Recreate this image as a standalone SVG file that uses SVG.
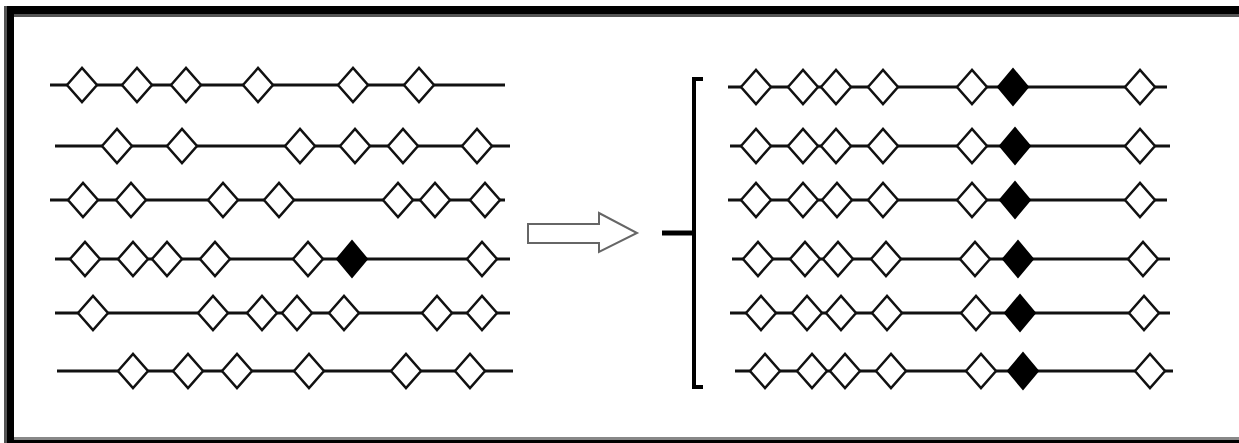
<svg xmlns="http://www.w3.org/2000/svg" xmlns:xlink="http://www.w3.org/1999/xlink" width="1239" height="443" viewBox="0 0 1239 443">
<style>
.ln{stroke:#111;stroke-width:3;fill:none}
.o{fill:#fff;stroke:#111;stroke-width:2.5}
.f{fill:#000;stroke:#000;stroke-width:2}
.frame{fill:#000}
</style>
<defs>
<path id="d" d="M-15,0 L0,-17 L15,0 L0,17 Z"/>
<path id="D" d="M-15,0 L0,-18 L15,0 L0,18 Z"/>
</defs>
<rect width="1239" height="443" fill="#fff"/>
<g id="frame">
<rect class="frame" x="4" y="6" width="1235" height="8"/>
<rect x="14" y="14" width="1225" height="3" fill="#555"/>
<rect x="4" y="6" width="3" height="437" fill="#555"/>
<rect class="frame" x="7" y="6" width="7" height="437"/>
<rect x="14" y="437" width="1225" height="3" fill="#888"/>
<rect class="frame" x="14" y="440" width="1225" height="3"/>
</g>
<g id="connectors">
<line class="ln" x1="50" y1="85" x2="505" y2="85"/>
<line class="ln" x1="55" y1="146" x2="510" y2="146" stroke="#333"/>
<line class="ln" x1="50" y1="200" x2="505" y2="200"/>
<line class="ln" x1="55" y1="259" x2="510" y2="259"/>
<line class="ln" x1="55" y1="313" x2="510" y2="313"/>
<line class="ln" x1="57" y1="371" x2="513" y2="371"/>
<line class="ln" x1="728" y1="87" x2="1167" y2="87"/>
<line class="ln" x1="730" y1="146" x2="1170" y2="146"/>
<line class="ln" x1="728" y1="200" x2="1167" y2="200"/>
<line class="ln" x1="732" y1="259" x2="1170" y2="259"/>
<line class="ln" x1="730" y1="313" x2="1170" y2="313"/>
<line class="ln" x1="735" y1="371" x2="1173" y2="371"/>
</g>
<g id="left-row1">
<use href="#d" class="o" x="82" y="85"/><use href="#d" class="o" x="137" y="85"/><use href="#d" class="o" x="186" y="85"/><use href="#d" class="o" x="258" y="85"/><use href="#d" class="o" x="353" y="85"/><use href="#d" class="o" x="419" y="85"/>
</g>
<g id="left-row2">
<use href="#d" class="o" x="117" y="146"/><use href="#d" class="o" x="182" y="146"/><use href="#d" class="o" x="300" y="146"/><use href="#d" class="o" x="355" y="146"/><use href="#d" class="o" x="403" y="146"/><use href="#d" class="o" x="477" y="146"/>
</g>
<g id="left-row3">
<use href="#d" class="o" x="83" y="200"/><use href="#d" class="o" x="131" y="200"/><use href="#d" class="o" x="223" y="200"/><use href="#d" class="o" x="279" y="200"/><use href="#d" class="o" x="398" y="200"/><use href="#d" class="o" x="435" y="200"/><use href="#d" class="o" x="485" y="200"/>
</g>
<g id="left-row4">
<use href="#d" class="o" x="85" y="259"/><use href="#d" class="o" x="133" y="259"/><use href="#d" class="o" x="167" y="259"/><use href="#d" class="o" x="215" y="259"/><use href="#d" class="o" x="308" y="259"/><use href="#D" class="f" x="352" y="259"/><use href="#d" class="o" x="482" y="259"/>
</g>
<g id="left-row5">
<use href="#d" class="o" x="93" y="313"/><use href="#d" class="o" x="213" y="313"/><use href="#d" class="o" x="262" y="313"/><use href="#d" class="o" x="297" y="313"/><use href="#d" class="o" x="344" y="313"/><use href="#d" class="o" x="437" y="313"/><use href="#d" class="o" x="482" y="313"/>
</g>
<g id="left-row6">
<use href="#d" class="o" x="133" y="371"/><use href="#d" class="o" x="188" y="371"/><use href="#d" class="o" x="237" y="371"/><use href="#d" class="o" x="309" y="371"/><use href="#d" class="o" x="406" y="371"/><use href="#d" class="o" x="470" y="371"/>
</g>
<g id="arrow">
<path d="M528,224 L599,224 L599,213 L637,233 L599,252 L599,243 L528,243 Z" fill="#fff" stroke="#666" stroke-width="2"/>
</g>
<g id="brace">
<path d="M703,79 L694,79 L694,387 L703,387" fill="none" stroke="#000" stroke-width="4"/>
<line x1="662" y1="233" x2="694" y2="233" stroke="#000" stroke-width="5"/>
</g>
<g id="right-row1">
<use href="#d" class="o" x="756" y="87"/><use href="#d" class="o" x="803" y="87"/><use href="#d" class="o" x="836" y="87"/><use href="#d" class="o" x="883" y="87"/><use href="#d" class="o" x="972" y="87"/><use href="#D" class="f" x="1013" y="87"/><use href="#d" class="o" x="1140" y="87"/>
</g>
<g id="right-row2">
<use href="#d" class="o" x="756" y="146"/><use href="#d" class="o" x="803" y="146"/><use href="#d" class="o" x="836" y="146"/><use href="#d" class="o" x="883" y="146"/><use href="#d" class="o" x="972" y="146"/><use href="#D" class="f" x="1015" y="146"/><use href="#d" class="o" x="1140" y="146"/>
</g>
<g id="right-row3">
<use href="#d" class="o" x="756" y="200"/><use href="#d" class="o" x="803" y="200"/><use href="#d" class="o" x="837" y="200"/><use href="#d" class="o" x="883" y="200"/><use href="#d" class="o" x="972" y="200"/><use href="#D" class="f" x="1015" y="200"/><use href="#d" class="o" x="1140" y="200"/>
</g>
<g id="right-row4">
<use href="#d" class="o" x="758" y="259"/><use href="#d" class="o" x="805" y="259"/><use href="#d" class="o" x="838" y="259"/><use href="#d" class="o" x="886" y="259"/><use href="#d" class="o" x="975" y="259"/><use href="#D" class="f" x="1018" y="259"/><use href="#d" class="o" x="1143" y="259"/>
</g>
<g id="right-row5">
<use href="#d" class="o" x="761" y="313"/><use href="#d" class="o" x="807" y="313"/><use href="#d" class="o" x="841" y="313"/><use href="#d" class="o" x="887" y="313"/><use href="#d" class="o" x="976" y="313"/><use href="#D" class="f" x="1020" y="313"/><use href="#d" class="o" x="1144" y="313"/>
</g>
<g id="right-row6">
<use href="#d" class="o" x="765" y="371"/><use href="#d" class="o" x="812" y="371"/><use href="#d" class="o" x="845" y="371"/><use href="#d" class="o" x="891" y="371"/><use href="#d" class="o" x="981" y="371"/><use href="#D" class="f" x="1023" y="371"/><use href="#d" class="o" x="1150" y="371"/>
</g>
</svg>
